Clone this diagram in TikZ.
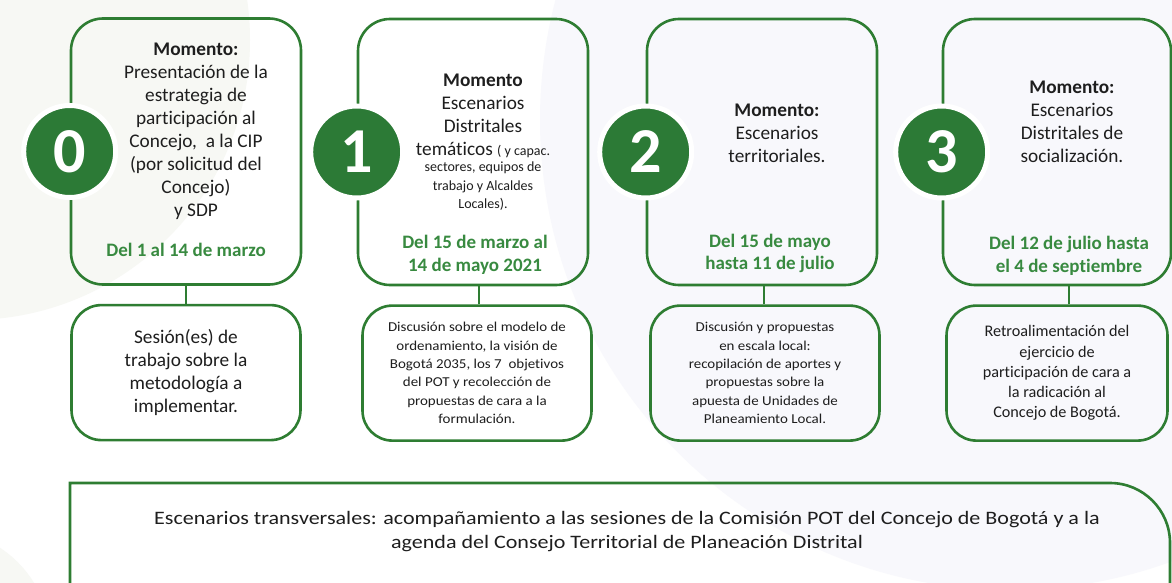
\documentclass[tikz,border=0pt]{standalone}
\usepackage{fontspec}
\setmainfont{Carlito}[Ligatures=NoCommon]
\newfontfamily\widefont{Carlito}[FakeStretch=1.10, Ligatures=NoCommon]
\newfontfamily\bandfont{Carlito}[FakeStretch=1.16, Ligatures=NoCommon]
\usetikzlibrary{positioning}

\definecolor{momgreen}{RGB}{46,125,50}
\definecolor{circgreen}{RGB}{44,122,54}
\definecolor{dategreen}{RGB}{56,138,64}
\definecolor{bgleft}{RGB}{247,248,244}
\definecolor{bgright}{RGB}{248,248,252}
\definecolor{inktext}{RGB}{30,30,30}

\tikzset{
    topbox/.style={draw=momgreen, line width=2.6pt, rounded corners=32pt,
        minimum width=230pt, minimum height=266pt},
    lowbox/.style={draw=momgreen, line width=2.6pt, rounded corners=30pt,
        minimum width=229pt, minimum height=135pt, align=center, text=inktext},
    numcirc/.style={circle, fill=circgreen, draw=white, line width=5pt,
        minimum size=92pt, inner sep=0pt, text=white,
        font=\fontsize{64}{64}\selectfont\bfseries},
    momtext/.style={align=center, text=inktext, inner sep=0pt,
        font=\fontsize{19.3}{23}\selectfont},
    smalltext/.style={align=center, text=inktext, inner sep=0pt,
        font=\fontsize{14}{18.5}\selectfont},
    datetext/.style={align=center, text=dategreen, inner sep=0pt,
        font=\fontsize{19}{22.5}\selectfont\bfseries},
    link/.style={draw=momgreen, line width=2.6pt},
}

\begin{document}
\begin{tikzpicture}[x=1pt, y=-1pt]
    \clip (0,0) rectangle (1172,583);
    \fill[white] (0,0) rectangle (1172,583);
    % faint background
    \fill[bgleft] (-30,40) circle[radius=280];
    \fill[bgright] (1010,120) circle[radius=470];
    \fill[bgleft] (-60,640) circle[radius=110];

    % top boxes
    \node[topbox] (top0) at (186,151.5) {};
    \node[topbox] (top1) at (473,152) {};
    \node[topbox] (top2) at (762,152) {};
    \node[topbox, minimum width=228pt] (top3) at (1057,152) {};

    % moment texts
    \node[momtext, below=26pt of top0.north, xshift=10pt] (txt0)
        {\textbf{Momento:}\\Presentación de la\\estrategia de\\participación al\\Concejo,~ a la CIP\\(por solicitud del\\Concejo)\\y SDP};
    \node[momtext, below=56pt of top1.north, xshift=10pt] (txt1)
        {\textbf{Momento}\\Escenarios\\Distritales\\temáticos {\fontsize{14}{18.5}\selectfont ( y capac.}};
    \node[smalltext, below=4pt of txt1] (txt1b)
        {sectores, equipos de\\trabajo y Alcaldes\\Locales).};
    \node[momtext, below=86pt of top2.north, xshift=15pt] (txt2)
        {\textbf{Momento:}\\Escenarios\\territoriales.};
    \node[momtext, below=63pt of top3.north, xshift=15pt] (txt3)
        {\textbf{Momento:}\\Escenarios\\Distritales de\\socialización.};

    % dates
    \node[datetext, above=29pt of top0.south] (date0) {Del 1 al 14 de marzo};
    \node[datetext, above=12pt of top1.south, xshift=2pt] (date1) {Del 15 de marzo al\\14 de mayo 2021};
    \node[datetext, above=13pt of top2.south, xshift=8pt] (date2) {Del 15 de mayo\\hasta 11 de julio};
    \node[datetext, above=11pt of top3.south, xshift=12pt] (date3) {Del 12 de julio hasta\\el 4 de septiembre};

    % number circles
    \node[numcirc] (num0) at (top0.west) {0};
    \node[numcirc] (num1) at (top1.west) {1};
    \node[numcirc] (num2) at (top2.west) {2};
    \node[numcirc] (num3) at (top3.west) {3};

    % lower boxes
    \node[lowbox, below=18pt of top0, font=\fontsize{19.3}{23}\selectfont] (low0)
        {Sesión(es) de\\trabajo sobre la\\metodología a\\implementar.};
    \node[lowbox, below=18pt of top1, xshift=4pt, font=\widefont\fontsize{13.6}{18.4}\selectfont] (low1)
        {Discusión sobre el modelo de\\ordenamiento, la visión de\\Bogotá 2035, los 7~ objetivos\\del POT y recolección de\\propuestas de cara a la\\formulación.};
    \node[lowbox, below=18pt of top2, xshift=3pt, font=\widefont\fontsize{13.6}{18.4}\selectfont] (low2)
        {Discusión y propuestas\\en escala local:\\recopilación de aportes y\\propuestas sobre la\\apuesta de Unidades de\\Planeamiento Local.};
    \node[lowbox, below=18pt of top3, minimum width=221pt, font=\fontsize{16.2}{20.2}\selectfont] (low3)
        {Retroalimentación del\\ejercicio de\\participación de cara a\\la radicación al\\Concejo de Bogotá.};

    \draw[link] (low0.north) -- (low0.north |- top0.south);
    \draw[link] ([xshift=2pt]low1.north) -- ([xshift=2pt]low1.north |- top1.south);
    \draw[link] ([xshift=-1pt]low2.north) -- ([xshift=-1pt]low2.north |- top2.south);
    \draw[link] ([xshift=12pt]low3.north) -- ([xshift=12pt]low3.north |- top3.south);

    % transversal band
    \node[momtext, font=\bandfont\fontsize{19}{24}\selectfont] (transv) at (627,532)
        {Escenarios transversales: acompañamiento a las sesiones de la Comisión POT del Concejo de Bogotá y a la\\agenda del Consejo Territorial de Planeación Distrital};
    \draw[link] (70,620) -- (70,483) -- (1110,483)
        arc[start angle=-90, end angle=0, radius=60] -- (1170,620);
\end{tikzpicture}
\end{document}
